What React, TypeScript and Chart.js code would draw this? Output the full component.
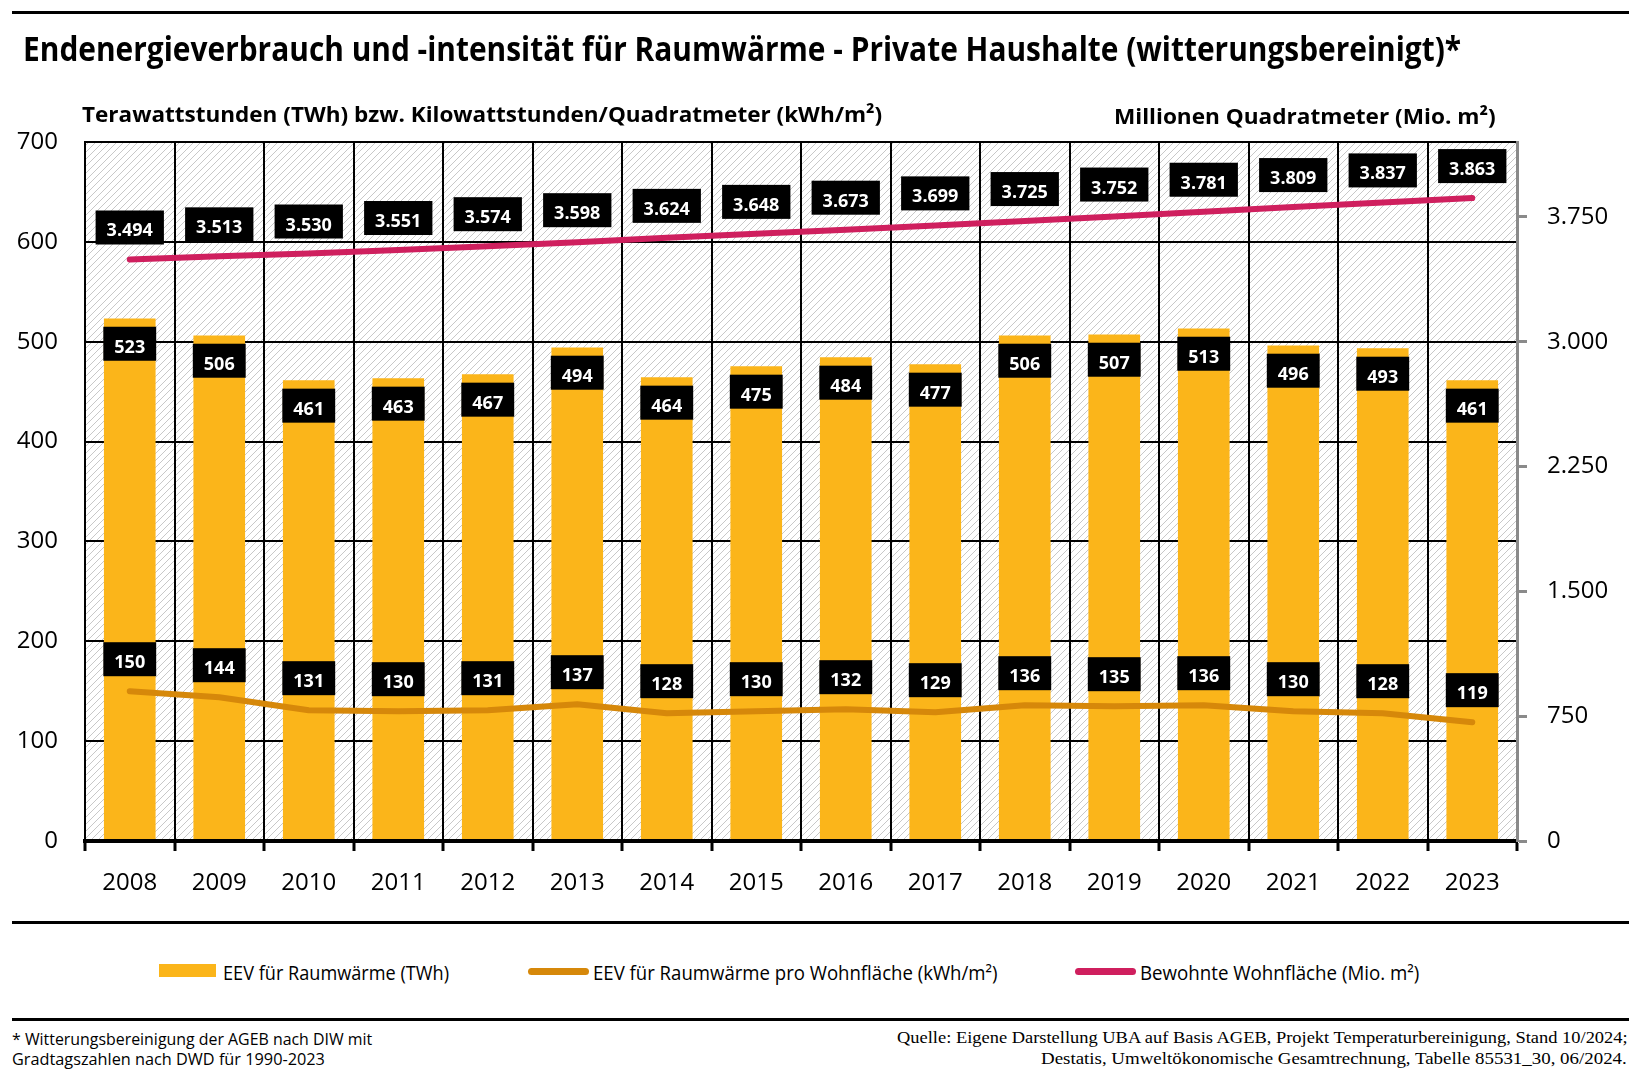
import React, { useEffect, useLayoutEffect, useRef } from 'react';
import { Chart, registerables } from 'chart.js';

Chart.register(...registerables);

// ---------- data ----------
const years = ['2008', '2009', '2010', '2011', '2012', '2013', '2014', '2015', '2016', '2017', '2018', '2019', '2020', '2021', '2022', '2023'];
const eevTWh = [523, 506, 461, 463, 467, 494, 464, 475, 484, 477, 506, 507, 513, 496, 493, 461];
const eevPerM2 = [150, 144, 131, 130, 131, 137, 128, 130, 132, 129, 136, 135, 136, 130, 128, 119];
const wohnflaeche = [3494, 3513, 3530, 3551, 3574, 3598, 3624, 3648, 3673, 3699, 3725, 3752, 3781, 3809, 3837, 3863];
const rightTicks = [0, 750, 1500, 2250, 3000, 3750];

const YELLOW = '#FBB51A';
const ORANGE = '#D6880A';
const PINK = '#CF1F5E';
const GRAY = '#8a8a8a';

const fmt = (v: number) => String(v).replace(/\B(?=(\d{3})+(?!\d))/g, '.');

let hatchPattern: CanvasPattern | null = null;
const hatchPlugin = {
  id: 'hatch',
  beforeDraw(chart: any) {
    const { ctx, chartArea: a } = chart;
    if (!hatchPattern) {
      const s = 7;
      const pc = document.createElement('canvas');
      pc.width = s;
      pc.height = s;
      const p = pc.getContext('2d')!;
      p.fillStyle = '#ffffff';
      p.fillRect(0, 0, s, s);
      p.strokeStyle = '#c8c8c8';
      p.lineWidth = 1;
      p.beginPath();
      p.moveTo(-1, s + 1);
      p.lineTo(s + 1, -1);
      p.moveTo(-1, 1);
      p.lineTo(1, -1);
      p.moveTo(s - 1, s + 1);
      p.lineTo(s + 1, s - 1);
      p.stroke();
      hatchPattern = ctx.createPattern(pc, 'repeat');
    }
    ctx.save();
    ctx.fillStyle = hatchPattern;
    ctx.fillRect(a.left, a.top, a.right - a.left, a.bottom - a.top);
    ctx.restore();
  },
};

const labelPlugin = {
  id: 'boxLabels',
  afterDatasetsDraw(chart: any) {
    const ctx = chart.ctx;
    ctx.save();
    ctx.font = 'bold 18px "Open Sans"';
    ctx.textAlign = 'center';
    ctx.textBaseline = 'alphabetic';
    chart.data.datasets.forEach((ds: any, di: number) => {
      const meta = chart.getDatasetMeta(di);
      meta.data.forEach((el: any, i: number) => {
        const v = ds.data[i];
        const txt = fmt(v);
        const tw = ctx.measureText(txt).width;
        const w = Math.max(tw + 22, 51);
        const h = 34;
        const top = meta.type === 'bar' ? el.y + 8 : el.y - 15 - h;
        ctx.fillStyle = '#000';
        ctx.fillRect(el.x - w / 2, top, w, h);
        ctx.fillStyle = '#fff';
        ctx.fillText(txt, el.x, top + h / 2 + 9);
      });
    });
    ctx.restore();
  },
};

function FitText(props: { text: string; left: number; top: number; width: number; font: string; lh: number }) {
  const ref = useRef<HTMLSpanElement>(null);
  useLayoutEffect(() => {
    const el = ref.current;
    if (!el) return;
    el.style.transform = 'none';
    const w = el.offsetWidth;
    if (w > 0) el.style.transform = `scaleX(${props.width / w})`;
  });
  return (
    <span
      ref={ref}
      style={{
        position: 'absolute',
        left: props.left,
        top: props.top,
        whiteSpace: 'nowrap',
        font: props.font,
        lineHeight: props.lh + 'px',
        display: 'inline-block',
        transformOrigin: 'left top',
        color: '#000',
      }}
    >
      {props.text}
    </span>
  );
}

const rule = (top: number, h = 3) => (
  <div style={{ position: 'absolute', left: 12, top, width: 1617, height: h, background: '#000' }} />
);

export default function App() {
  const canvasRef = useRef<HTMLCanvasElement>(null);

  useEffect(() => {
    const tickFont = { family: '"Open Sans"', size: 24 };
    const chart = new Chart(canvasRef.current!, {
      type: 'bar',
      data: {
        labels: years,
        datasets: [
          {
            type: 'bar',
            label: 'EEV für Raumwärme (TWh)',
            data: eevTWh,
            yAxisID: 'y',
            backgroundColor: YELLOW,
            barThickness: 51,
            order: 3,
          } as any,
          {
            type: 'line',
            label: 'EEV für Raumwärme pro Wohnfläche (kWh/m²)',
            data: eevPerM2,
            yAxisID: 'y',
            borderColor: ORANGE,
            borderWidth: 6,
            pointRadius: 0,
            borderCapStyle: 'round',
            borderJoinStyle: 'round',
            tension: 0,
            order: 1,
          },
          {
            type: 'line',
            label: 'Bewohnte Wohnfläche (Mio. m²)',
            data: wohnflaeche,
            yAxisID: 'y1',
            borderColor: PINK,
            borderWidth: 6,
            pointRadius: 0,
            borderCapStyle: 'round',
            borderJoinStyle: 'round',
            tension: 0,
            order: 2,
          },
        ],
      },
      options: {
        animation: false,
        responsive: false,
        devicePixelRatio: 1,
        layout: { padding: { top: 142, left: 0, right: 0, bottom: 0 } },
        plugins: { legend: { display: false }, tooltip: { enabled: false } },
        scales: {
          x: {
            offset: true,
            grid: { offset: true, color: '#000', lineWidth: 2, drawTicks: true, tickLength: 10, tickWidth: 3, tickColor: '#000' },
            border: { color: '#000', width: 4, z: 1 },
            ticks: { font: tickFont, color: '#000', padding: 18, maxRotation: 0, autoSkip: false },
            afterFit: (s: any) => { s.height = 69; },
          },
          y: {
            position: 'left',
            min: 0,
            max: 700,
            ticks: { stepSize: 100, font: tickFont, color: '#000', padding: 27 },
            grid: { color: '#000', lineWidth: 2, drawTicks: false },
            border: { color: '#000', width: 2 },
            afterFit: (s: any) => { s.width = 85; },
          },
          y1: {
            position: 'right',
            min: 0,
            max: 4200,
            afterBuildTicks: (s: any) => { s.ticks = rightTicks.map((v) => ({ value: v })); },
            ticks: { font: tickFont, color: '#000', padding: 20, callback: (v: any) => fmt(Number(v)) },
            grid: { drawOnChartArea: false, drawTicks: true, tickLength: 10, tickWidth: 3, tickColor: GRAY, color: GRAY },
            border: { color: GRAY, width: 3, z: 1 },
            afterFit: (s: any) => { s.width = 124; },
          },
        },
      } as any,
      plugins: [hatchPlugin, labelPlugin],
    });
    return () => chart.destroy();
  }, []);

  const bold = (s: number) => `bold ${s}px "Open Sans"`;
  const reg = (s: number) => `${s}px "Open Sans"`;
  const serif = (s: number) => `${s}px "Liberation Serif"`;

  return (
    <div style={{ position: 'absolute', left: 0, top: 0, width: 1641, height: 1080, background: '#fff', overflow: 'hidden' }}>
      <canvas ref={canvasRef} width={1641} height={910} style={{ position: 'absolute', left: 0, top: 0, width: 1641, height: 910 }} />
      {rule(11)}
      <FitText text="Endenergieverbrauch und -intensität für Raumwärme - Private Haushalte (witterungsbereinigt)*" left={23} top={31} width={1438} font={bold(34)} lh={34} />
      <FitText text="Terawattstunden (TWh) bzw. Kilowattstunden/Quadratmeter (kWh/m²)" left={82} top={102} width={800} font={bold(22)} lh={22} />
      <FitText text="Millionen Quadratmeter (Mio. m²)" left={1114} top={104} width={382} font={bold(22)} lh={22} />
      {rule(921)}
      <div style={{ position: 'absolute', left: 159, top: 964, width: 57, height: 13, background: YELLOW }} />
      <FitText text="EEV für Raumwärme (TWh)" left={223} top={963} width={226} font={reg(19.5)} lh={19.5} />
      <div style={{ position: 'absolute', left: 528, top: 967.5, width: 61, height: 7, borderRadius: 4, background: ORANGE }} />
      <FitText text="EEV für Raumwärme pro Wohnfläche (kWh/m²)" left={593} top={963} width={404} font={reg(19.5)} lh={19.5} />
      <div style={{ position: 'absolute', left: 1075, top: 967.5, width: 61, height: 7, borderRadius: 4, background: PINK }} />
      <FitText text="Bewohnte Wohnfläche (Mio. m²)" left={1140} top={963} width={279} font={reg(19.5)} lh={19.5} />
      {rule(1018)}
      <FitText text="* Witterungsbereinigung der AGEB nach DIW mit" left={12} top={1030} width={360} font={reg(17)} lh={17} />
      <FitText text="Gradtagszahlen nach DWD für 1990-2023" left={12} top={1050} width={313} font={reg(17)} lh={17} />
      <FitText text="Quelle: Eigene Darstellung UBA auf Basis AGEB, Projekt Temperaturbereinigung, Stand 10/2024;" left={897} top={1029} width={731} font={serif(17)} lh={17} />
      <FitText text="Destatis, Umweltökonomische Gesamtrechnung, Tabelle 85531_30, 06/2024." left={1041} top={1050} width={586} font={serif(17)} lh={17} />
    </div>
  );
}
